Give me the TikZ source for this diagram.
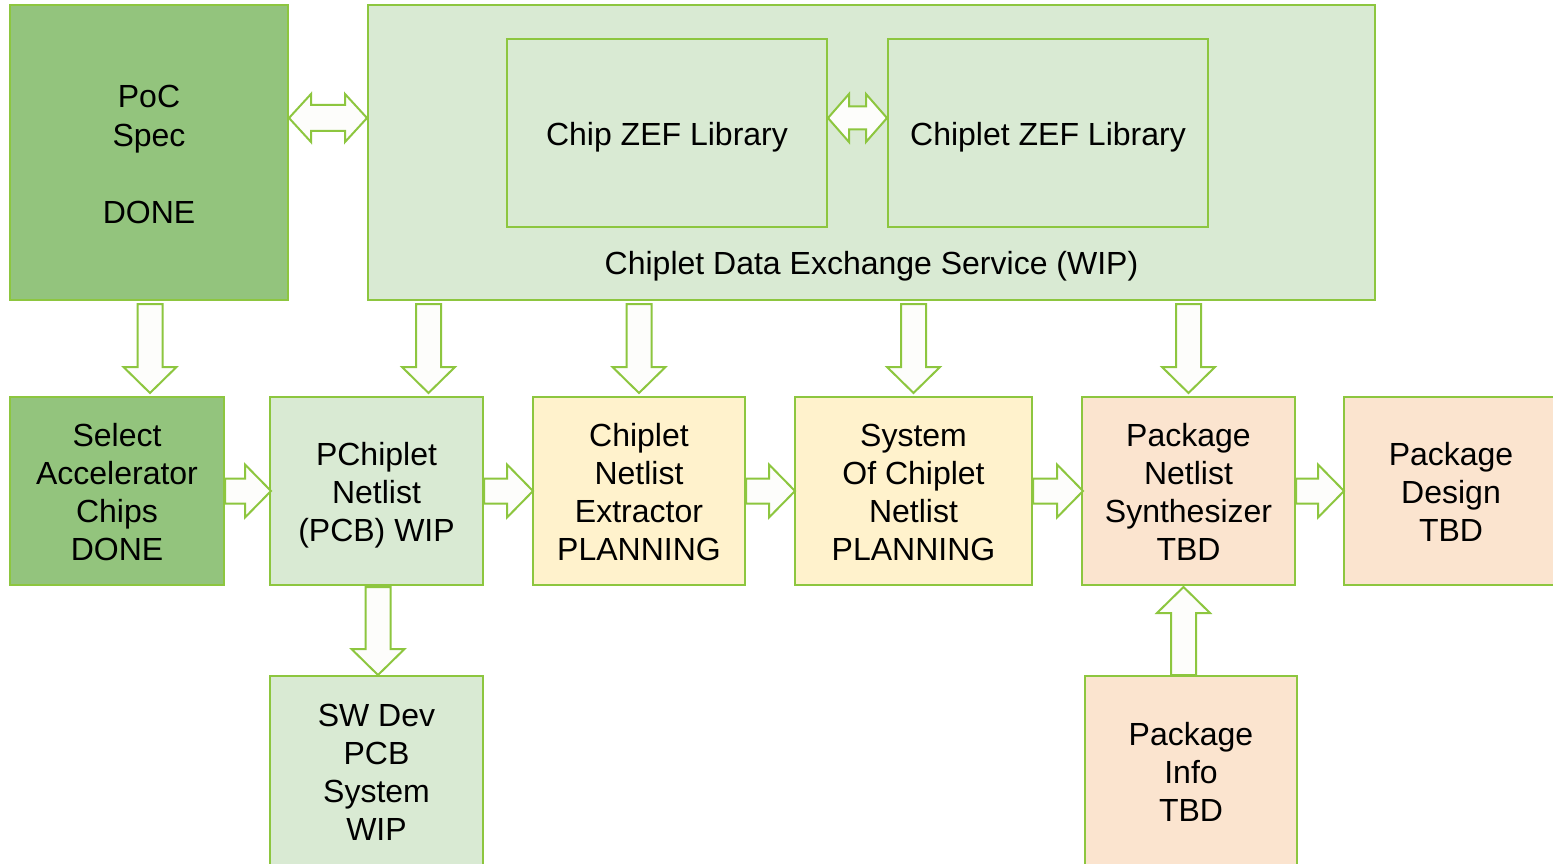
\documentclass[tikz,border=0pt]{standalone}
\usepackage{fontspec}
\setmainfont{Liberation Sans}
\usetikzlibrary{calc}
\definecolor{bord}{HTML}{8DC63F}
\definecolor{dgreen}{HTML}{93C47D}
\definecolor{lgreen}{HTML}{D9EAD3}
\definecolor{lyellow}{HTML}{FFF2CC}
\definecolor{lpeach}{HTML}{FBE4CF}
\definecolor{arrfill}{HTML}{FDFDFB}
% multi-line text, set a little lower than the centre of its box
\newcommand{\btxt}[1]{\raisebox{0pt}[\dimexpr\height+10pt\relax]{\begin{tabular}{@{}c@{}}#1\end{tabular}}}
\tikzset{
  box/.style={draw=bord, line width=2pt, rectangle, inner sep=0pt,
    font=\fontsize{32}{38}\selectfont},
  donebox/.style={box, fill=dgreen},
  wipbox/.style={box, fill=lgreen},
  planbox/.style={box, fill=lyellow},
  tbdbox/.style={box, fill=lpeach},
  lbl/.style={inner sep=0pt, font=\fontsize{32}{38}\selectfont},
  arr/.style={draw=bord, line width=2pt, fill=arrfill, line join=miter}
}
% single block arrow: start, end, shaft half width, head half width, head length
\newcommand{\barrow}[5]{%
  \coordinate (ba-s) at (#1);
  \coordinate (ba-e) at (#2);
  \coordinate (ba-h) at ($(ba-e)!#5!(ba-s)$);
  \draw[arr] ($(ba-s)!#3!90:(ba-e)$) -- ($(ba-h)!#3!90:(ba-e)$) -- ($(ba-h)!#4!90:(ba-e)$)
    -- (ba-e) -- ($(ba-h)!#4!-90:(ba-e)$) -- ($(ba-h)!#3!-90:(ba-e)$)
    -- ($(ba-s)!#3!-90:(ba-e)$) -- cycle;
}
% double block arrow
\newcommand{\dbarrow}[5]{%
  \coordinate (da-s) at (#1);
  \coordinate (da-e) at (#2);
  \coordinate (da-h1) at ($(da-s)!#5!(da-e)$);
  \coordinate (da-h2) at ($(da-e)!#5!(da-s)$);
  \draw[arr] (da-s) -- ($(da-h1)!#4!90:(da-e)$) -- ($(da-h1)!#3!90:(da-e)$)
    -- ($(da-h2)!#3!90:(da-e)$) -- ($(da-h2)!#4!90:(da-e)$) -- (da-e)
    -- ($(da-h2)!#4!-90:(da-e)$) -- ($(da-h2)!#3!-90:(da-e)$)
    -- ($(da-h1)!#3!-90:(da-e)$) -- ($(da-h1)!#4!-90:(da-e)$) -- cycle;
}
\begin{document}
\begin{tikzpicture}[x=1pt,y=-1pt]
\useasboundingbox (0,0) rectangle (1553,864);
\clip (0,0) rectangle (1553,864);
\fill[white] (0,0) rectangle (1553,864);

% top row
\node[donebox, minimum width=278pt, minimum height=295pt] (poc) at (149,152.5) {\btxt{PoC\\[1pt]Spec\\[39pt]DONE}};
\node[wipbox, minimum width=1007pt, minimum height=295pt] (cdes) at (871.5,152.5) {};
\node[wipbox, minimum width=320pt, minimum height=188pt] (chipzef) at (667,133) {\btxt{Chip ZEF Library}};
\node[wipbox, minimum width=320pt, minimum height=188pt] (chipletzef) at (1048,133) {\btxt{Chiplet ZEF Library}};
\node[lbl] (cdeslabel) at (871.5,266) {Chiplet Data Exchange Service (WIP)};

% middle row
\node[donebox, minimum width=214pt, minimum height=188pt] (select) at (117,491) {\btxt{Select\\Accelerator\\Chips\\DONE}};
\node[wipbox, minimum width=213pt, minimum height=188pt] (pcb) at (376.5,491) {\btxt{PChiplet\\Netlist\\(PCB) WIP}};
\node[planbox, minimum width=212pt, minimum height=188pt] (cne) at (639,491) {\btxt{Chiplet\\Netlist\\Extractor\\PLANNING}};
\node[planbox, minimum width=237pt, minimum height=188pt] (soc) at (913.5,491) {\btxt{System\\Of Chiplet\\Netlist\\PLANNING}};
\node[tbdbox, minimum width=213pt, minimum height=188pt] (pns) at (1188.5,491) {\btxt{Package\\Netlist\\Synthesizer\\TBD}};
\node[tbdbox, minimum width=214pt, minimum height=188pt] (pd) at (1451,491) {\btxt{Package\\Design\\TBD}};

% bottom row
\node[wipbox, minimum width=213pt, minimum height=190pt] (sw) at (376.5,771) {\btxt{SW Dev\\PCB\\System\\WIP}};
\node[tbdbox, minimum width=212pt, minimum height=190pt] (pinfo) at (1191,771) {\btxt{Package\\Info\\TBD}};

% double arrows
\dbarrow{$(poc.north east)+(0,114)$}{$(cdes.north west)+(0,114)$}{13pt}{24pt}{22pt}
\dbarrow{$(chipzef.north east)+(0,80)$}{$(chipletzef.north west)+(0,80)$}{11.5pt}{24pt}{21pt}

% down arrows
\barrow{$(poc.south)+(1,3)$}{$(poc.south |- select.north)+(1,-3)$}{12.5pt}{26.5pt}{26pt}
\barrow{$(pcb.north |- cdes.south)+(52,3)$}{$(pcb.north)+(52,-3)$}{12.5pt}{26.5pt}{26pt}
\barrow{$(cne.north |- cdes.south)+(0,3)$}{$(cne.north)+(0,-3)$}{12.5pt}{26.5pt}{26pt}
\barrow{$(soc.north |- cdes.south)+(0,3)$}{$(soc.north)+(0,-3)$}{12.5pt}{26.5pt}{26pt}
\barrow{$(pns.north |- cdes.south)+(0,3)$}{$(pns.north)+(0,-3)$}{12.5pt}{26.5pt}{26pt}
\barrow{$(pcb.south)+(1.5,1)$}{$(sw.north)+(1.5,0)$}{12.5pt}{26.5pt}{26pt}

% right arrows
\barrow{select.east}{$(pcb.west)+(2,0)$}{12.5pt}{26.5pt}{26pt}
\barrow{pcb.east}{$(cne.west)+(1,0)$}{12.5pt}{26.5pt}{26pt}
\barrow{cne.east}{$(soc.west)+(1,0)$}{12.5pt}{26.5pt}{26pt}
\barrow{soc.east}{$(pns.west)+(2,0)$}{12.5pt}{26.5pt}{26pt}
\barrow{pns.east}{$(pd.west)+(1,0)$}{12.5pt}{26.5pt}{26pt}

% up arrow
\barrow{$(pinfo.north)+(-7.5,0)$}{$(pinfo.north |- pns.south)+(-7.5,1)$}{12.5pt}{26.5pt}{26pt}
\end{tikzpicture}
\end{document}
